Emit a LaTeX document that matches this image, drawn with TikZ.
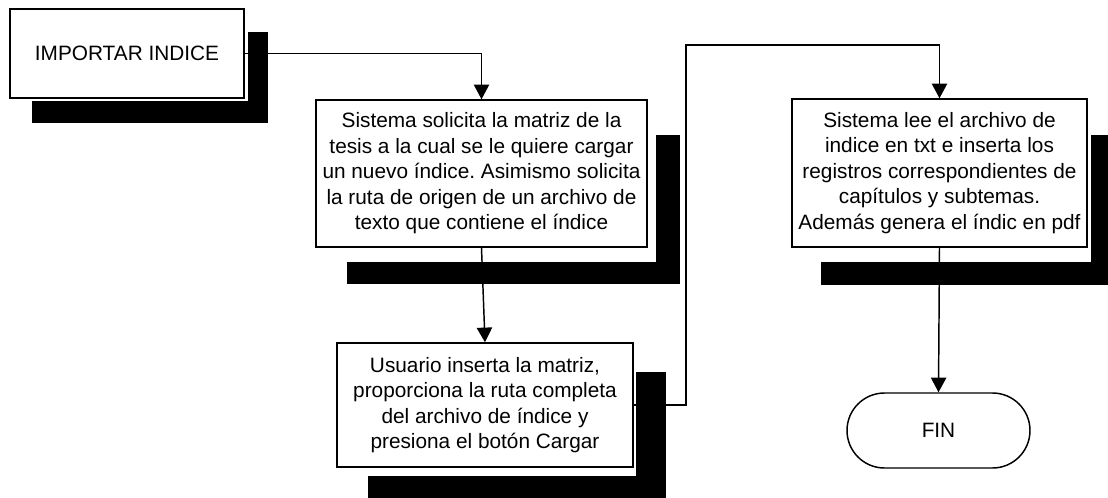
\documentclass[tikz,border=0pt]{standalone}
\usepackage{fontspec}
\setmainfont{Liberation Sans}
\usetikzlibrary{arrows.meta,calc,shapes.misc}
\pgfdeclarelayer{bg}
\pgfdeclarelayer{mid}
\pgfsetlayers{bg,mid,main}
\newcommand\dropshadow[5]{%
  \fill[black] ([shift={(#2,#3)}]#1.north west) rectangle ([shift={(#2,#3)}]#1.south east);
  \fill[white] (#1.north west) rectangle ([shift={(#4,#5)}]#1.south east);}
\frenchspacing
\begin{document}
\begin{tikzpicture}[x=0.75pt,y=-0.75pt,
  box/.style={draw,fill=white,line width=1.1pt,inner sep=0pt,align=center,
    font=\fontsize{15.6}{19.1}\selectfont\frenchspacing},
  conn/.style={line width=1.1pt,-{Triangle[width=11.5pt,length=11pt]}}]
\useasboundingbox (0,0) rectangle (1108,497);
\node[box,minimum width=175.5pt,minimum height=66.75pt] (b1) at (127,53.5) {IMPORTAR INDICE};
\node[box,minimum width=248.25pt,minimum height=110.25pt] (b2) at (481.5,173.5)
  {Sistema solicita la matriz de la\\tesis a la cual se le quiere cargar\\un nuevo índice. Asimismo solicita\\la ruta de origen de un archivo de\\texto que contiene el índice};
\node[box,minimum width=222pt,minimum height=93pt] (b3) at (485,405)
  {Usuario inserta la matriz,\\proporciona la ruta completa\\del archivo de índice y\\presiona el botón Cargar};
\node[box,minimum width=221.25pt,minimum height=111pt] (b4) at (939.5,173)
  {Sistema lee el archivo de\\indice en txt e inserta los\\registros correspondientes de\\capítulos y subtemas.\\Además genera el índic en pdf};
\node[box,rounded rectangle,minimum width=137.25pt,minimum height=56.25pt] (fin) at (938.5,430.5) {FIN};
\begin{pgfonlayer}{bg}
  \clip (0,0) rectangle (1108,497);
  \dropshadow{b1}{23}{24}{3}{2}
  \dropshadow{b2}{32}{36}{8}{14}
  \dropshadow{b3}{32}{30}{2}{8}
  \dropshadow{b4}{30}{37}{3}{14}
\end{pgfonlayer}
\begin{pgfonlayer}{mid}
  \coordinate (c1) at (686,45);
  \draw[conn] (b1.east) -| (b2.north);
  \draw[conn] (b2.south) -- (b3.north);
  \draw[conn] (b3.east) -| (c1) -| (b4.north);
  \draw[conn] (b4.south) -- (fin.north);
\end{pgfonlayer}
\end{tikzpicture}
\end{document}
